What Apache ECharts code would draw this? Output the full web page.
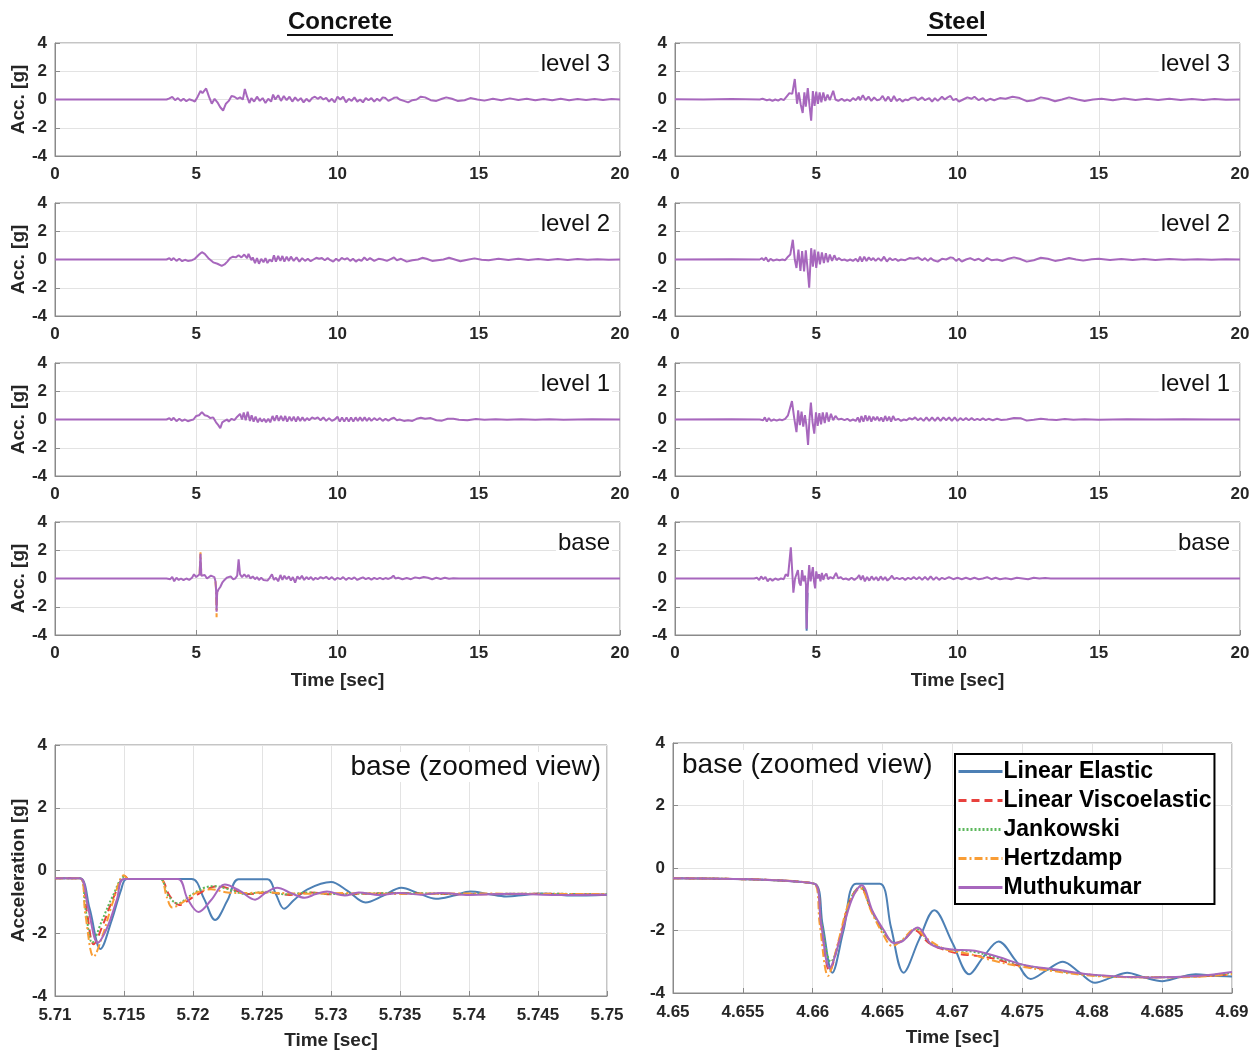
<!DOCTYPE html>
<html>
<head>
<meta charset="utf-8">
<script src="https://cdn.jsdelivr.net/npm/echarts@6/dist/echarts.min.js"></script>
<style>
  html, body { margin: 0; padding: 0; background: #fff; }
  #chart { width: 1260px; height: 1052px; }
</style>
</head>
<body>
<div id="chart"></div>
<script>
// ---- data: [time (s), acceleration (g)] ----
var seriesNames = ['Linear Elastic', 'Linear Viscoelastic', 'Jankowski', 'Hertzdamp', 'Muthukumar'];
var panelLabels = ['level 3', 'level 2', 'level 1', 'base'];
var columnTitles = ['Concrete', 'Steel'];

// concrete, full record (Muthukumar, others lie underneath)
var concL3 = [[0,0],[3.95,0],[4.05,0.08],[4.15,0.18],[4.25,-0.05],[4.35,0.1],[4.45,-0.1],[4.55,0.05],[4.65,-0.12],[4.75,0.02],[4.85,-0.05],[4.95,-0.15],[5.05,0.2],[5.15,0.6],[5.22,0.45],[5.35,0.78],[5.45,0.2],[5.55,-0.3],[5.65,0.05],[5.75,-0.2],[5.85,-0.55],[5.95,-0.78],[6.05,-0.3],[6.15,-0.1],[6.25,0.25],[6.35,0.2],[6.45,0.05],[6.55,0.15],[6.65,0.0],[6.72,0.75],[6.8,0.2],[6.88,-0.25],[6.95,0.1],[7.05,-0.15],[7.15,0.2],[7.25,-0.1],[7.35,0.1],[7.45,-0.25],[7.55,0.05],[7.65,-0.15],[7.72,0.35],[7.8,0.0],[7.9,0.3],[8.0,-0.1],[8.1,0.25],[8.2,-0.05],[8.3,0.2],[8.4,-0.15],[8.5,0.15],[8.6,-0.1],[8.7,0.1],[8.8,-0.2],[8.9,0.05],[9.0,-0.15],[9.1,0.1],[9.2,0.2],[9.3,0.05],[9.4,0.18],[9.5,0.0],[9.6,0.12],[9.7,-0.15],[9.8,0.05],[9.9,-0.2],[10.0,0.2],[10.1,0.0],[10.2,0.2],[10.3,-0.2],[10.4,0.05],[10.5,-0.1],[10.6,0.15],[10.7,-0.15],[10.8,0.0],[10.9,-0.2],[11.0,0.1],[11.1,-0.05],[11.2,0.1],[11.3,-0.15],[11.4,0.05],[11.5,-0.1],[11.6,0.15],[11.7,0.1],[11.8,-0.1],[11.9,0.0],[12.0,0.12],[12.1,0.15],[12.2,0.0],[12.35,-0.1],[12.5,-0.2],[12.65,-0.05],[12.8,0.0],[12.95,0.2],[13.1,0.15],[13.3,-0.05],[13.5,-0.1],[13.7,0.05],[13.85,0.15],[14.05,0.05],[14.25,-0.1],[14.5,-0.05],[14.7,0.1],[14.95,0.0],[15.2,-0.08],[15.5,0.05],[15.8,-0.05],[16.1,0.08],[16.4,-0.03],[16.7,0.05],[17.0,-0.06],[17.3,0.04],[17.6,-0.05],[17.9,0.05],[18.2,-0.05],[18.5,0.04],[18.8,-0.04],[19.1,0.04],[19.4,-0.03],[19.7,0.03],[20,0]];
var concL2 = [[0,0],[3.95,0],[4.05,0.1],[4.12,-0.05],[4.2,0.1],[4.3,-0.1],[4.4,0.05],[4.5,-0.12],[4.6,-0.02],[4.7,-0.1],[4.85,-0.05],[4.95,0.05],[5.1,0.35],[5.2,0.52],[5.3,0.4],[5.45,0.05],[5.6,-0.2],[5.75,-0.3],[5.9,-0.45],[6.0,-0.35],[6.1,-0.15],[6.2,0.1],[6.3,0.2],[6.4,0.15],[6.5,0.3],[6.6,0.15],[6.7,0.35],[6.8,0.1],[6.85,0.4],[6.95,-0.05],[7.0,0.15],[7.08,-0.25],[7.15,0.1],[7.22,-0.3],[7.3,0.05],[7.38,-0.2],[7.45,0.1],[7.52,-0.25],[7.6,0.0],[7.68,-0.15],[7.75,0.3],[7.82,-0.15],[7.9,0.25],[7.98,-0.1],[8.05,0.25],[8.12,-0.15],[8.2,0.2],[8.28,-0.1],[8.35,0.2],[8.45,-0.1],[8.55,0.15],[8.65,-0.15],[8.75,0.1],[8.85,-0.1],[8.95,0.05],[9.05,-0.12],[9.15,0.0],[9.25,0.12],[9.35,0.05],[9.45,0.1],[9.55,-0.05],[9.65,0.1],[9.75,-0.05],[9.85,-0.15],[9.95,0.05],[10.05,-0.1],[10.15,0.12],[10.25,0.0],[10.35,0.1],[10.45,-0.1],[10.55,0.05],[10.65,-0.15],[10.75,0.0],[10.85,-0.1],[10.95,0.15],[11.05,-0.05],[11.15,0.1],[11.3,-0.1],[11.45,0.05],[11.6,0.0],[11.75,-0.1],[11.9,0.05],[12.0,0.15],[12.1,-0.05],[12.25,0.05],[12.45,-0.15],[12.65,-0.05],[12.85,0.0],[13.0,0.12],[13.15,0.05],[13.35,-0.1],[13.55,-0.05],[13.75,0.0],[13.95,0.12],[14.15,0.0],[14.35,-0.12],[14.6,-0.02],[14.85,0.08],[15.1,-0.02],[15.35,-0.06],[15.7,0.05],[16.05,-0.03],[16.4,0.06],[16.75,-0.03],[17.1,0.04],[17.45,-0.03],[17.8,0.03],[18.15,-0.03],[18.5,0.03],[18.85,-0.02],[19.2,0.02],[19.6,-0.02],[20,0.0]];
var concL1 = [[0,0],[3.95,0],[4.05,0.1],[4.12,-0.05],[4.2,0.12],[4.3,-0.12],[4.4,0.05],[4.5,-0.1],[4.6,0.0],[4.7,-0.12],[4.8,-0.05],[4.9,0.0],[5.0,0.25],[5.1,0.3],[5.2,0.52],[5.3,0.3],[5.4,0.25],[5.5,0.1],[5.6,0.15],[5.7,-0.2],[5.78,-0.4],[5.85,-0.62],[5.92,-0.2],[6.0,-0.1],[6.1,0.0],[6.15,-0.15],[6.25,0.05],[6.35,-0.05],[6.45,0.2],[6.55,0.4],[6.62,0.0],[6.68,0.5],[6.75,-0.05],[6.82,0.55],[6.9,-0.1],[6.96,0.3],[7.03,-0.15],[7.1,0.2],[7.18,-0.2],[7.25,0.1],[7.32,-0.15],[7.4,0.05],[7.47,-0.2],[7.55,0.05],[7.62,-0.2],[7.7,0.25],[7.77,-0.1],[7.85,0.3],[7.92,-0.1],[8.0,0.25],[8.08,-0.1],[8.15,0.25],[8.22,-0.15],[8.3,0.2],[8.38,-0.1],[8.45,0.2],[8.53,-0.15],[8.6,0.2],[8.68,-0.1],[8.76,0.15],[8.84,-0.1],[8.92,0.1],[9.0,-0.05],[9.1,0.15],[9.2,0.05],[9.3,0.15],[9.4,-0.05],[9.5,0.15],[9.6,-0.1],[9.7,0.1],[9.8,-0.1],[9.9,0.0],[10.0,0.2],[10.08,-0.15],[10.16,0.15],[10.24,-0.15],[10.32,0.15],[10.4,-0.15],[10.48,0.15],[10.56,-0.15],[10.64,0.15],[10.72,-0.1],[10.8,0.15],[10.88,-0.1],[10.96,0.15],[11.04,-0.1],[11.12,0.12],[11.2,-0.1],[11.3,0.1],[11.4,-0.05],[11.5,0.1],[11.6,-0.1],[11.7,0.05],[11.8,-0.08],[11.9,0.05],[12.0,0.12],[12.1,-0.05],[12.2,0.0],[12.35,-0.1],[12.5,-0.05],[12.65,-0.1],[12.8,0.05],[12.95,0.12],[13.1,0.05],[13.3,0.1],[13.5,-0.05],[13.7,-0.08],[13.9,0.05],[14.1,0.05],[14.3,-0.02],[14.6,-0.06],[14.9,0.03],[15.2,-0.02],[15.6,0.02],[16.0,-0.02],[16.5,0.02],[17.0,-0.01],[17.5,0.02],[18.0,-0.01],[19.0,0.01],[20,0.0]];
var concBase = [[0,0],[3.95,0],[4.02,0.1],[4.08,-0.05],[4.15,0.12],[4.22,-0.2],[4.3,0.05],[4.38,-0.1],[4.46,0.0],[4.55,-0.12],[4.65,0.0],[4.75,-0.1],[4.85,0.05],[4.92,0.3],[5.0,0.1],[5.07,0.1],[5.12,0.3],[5.15,1.75],[5.18,0.2],[5.25,0.15],[5.3,0.25],[5.38,0.0],[5.45,-0.05],[5.52,0.2],[5.58,0.3],[5.64,0.1],[5.68,-0.2],[5.7,-0.7],[5.72,-2.35],[5.74,-1.0],[5.78,-0.8],[5.85,-0.6],[5.92,-0.3],[6.0,-0.1],[6.08,0.05],[6.15,-0.05],[6.22,0.15],[6.3,-0.05],[6.38,0.0],[6.45,0.2],[6.5,1.35],[6.55,0.3],[6.62,0.1],[6.7,0.3],[6.78,0.1],[6.85,0.25],[6.92,0.0],[7.0,0.15],[7.08,-0.05],[7.15,0.1],[7.22,-0.1],[7.3,0.05],[7.38,-0.1],[7.45,0.0],[7.52,-0.15],[7.6,0.05],[7.68,0.3],[7.75,-0.1],[7.82,0.05],[7.9,-0.2],[7.98,0.25],[8.05,-0.1],[8.12,0.2],[8.2,-0.05],[8.28,0.15],[8.35,-0.15],[8.42,0.1],[8.5,-0.3],[8.58,0.15],[8.66,-0.05],[8.74,0.2],[8.82,-0.1],[8.9,0.1],[8.98,-0.05],[9.06,0.1],[9.14,-0.1],[9.22,0.05],[9.3,-0.05],[9.4,0.1],[9.5,0.0],[9.6,0.12],[9.7,-0.05],[9.8,0.1],[9.9,-0.1],[10.0,0.05],[10.1,-0.05],[10.2,0.1],[10.3,-0.1],[10.4,0.05],[10.5,-0.05],[10.6,0.08],[10.7,-0.1],[10.8,0.0],[10.9,0.08],[11.0,-0.05],[11.1,0.05],[11.2,-0.08],[11.3,0.05],[11.4,-0.05],[11.5,0.05],[11.6,-0.05],[11.7,0.03],[11.8,-0.03],[11.9,0.05],[11.98,0.2],[12.05,0.0],[12.15,0.05],[12.3,-0.05],[12.45,0.03],[12.6,-0.05],[12.75,0.08],[12.9,0.02],[13.05,0.1],[13.2,0.05],[13.35,-0.05],[13.5,0.05],[13.65,-0.03],[13.8,0.05],[13.95,-0.02],[14.1,0.02],[14.3,0.0],[20,0.0]];
var concBaseHertz = [[5.12,0.3],[5.15,1.85],[5.18,0.2],[5.4,null],[5.68,-0.2],[5.7,-0.8],[5.72,-2.75],[5.74,-1.0]];

// steel, full record
var steelL3 = [[0,0.02],[1,0],[2,0.03],[3,0.0],[3.1,0.05],[3.15,0.15],[3.25,-0.05],[3.35,0.0],[3.45,-0.1],[3.55,0.0],[3.65,-0.08],[3.75,0.05],[3.85,-0.05],[3.95,0.2],[4.05,0.45],[4.15,0.4],[4.24,1.45],[4.32,-0.3],[4.38,0.5],[4.45,-0.35],[4.52,-0.95],[4.58,0.5],[4.63,-0.5],[4.7,0.8],[4.76,-0.4],[4.82,-1.5],[4.88,0.6],[4.94,-0.45],[5.0,0.55],[5.06,-0.3],[5.12,0.5],[5.18,-0.2],[5.25,0.5],[5.32,-0.1],[5.4,0.35],[5.48,-0.05],[5.6,0.62],[5.68,0.0],[5.78,-0.1],[5.9,0.05],[6.0,-0.1],[6.1,0.0],[6.2,-0.12],[6.3,0.1],[6.4,-0.05],[6.5,0.2],[6.55,-0.05],[6.65,0.3],[6.75,-0.05],[6.85,0.2],[6.95,-0.1],[7.05,0.15],[7.15,-0.05],[7.25,0.0],[7.35,0.25],[7.45,-0.1],[7.55,0.2],[7.65,-0.15],[7.75,0.25],[7.85,-0.1],[7.95,0.05],[8.05,-0.15],[8.15,0.0],[8.25,-0.05],[8.35,0.1],[8.5,0.15],[8.6,-0.05],[8.75,0.15],[8.85,-0.05],[9.0,0.1],[9.1,-0.15],[9.2,0.1],[9.3,-0.1],[9.45,0.2],[9.55,0.0],[9.65,0.15],[9.75,0.25],[9.85,-0.05],[9.95,0.05],[10.05,-0.15],[10.2,0.0],[10.35,0.15],[10.5,0.05],[10.6,0.2],[10.75,-0.05],[10.9,0.1],[11.0,-0.1],[11.15,0.05],[11.3,-0.05],[11.5,0.1],[11.7,0.05],[11.95,0.2],[12.2,0.1],[12.45,-0.12],[12.7,-0.05],[12.95,0.15],[13.2,0.05],[13.45,-0.12],[13.7,0.0],[13.95,0.15],[14.25,0.0],[14.5,-0.1],[14.8,0.0],[15.1,0.05],[15.5,-0.05],[15.9,0.07],[16.3,-0.03],[16.7,0.05],[17.1,-0.03],[17.5,0.05],[17.9,-0.03],[18.3,0.04],[18.7,-0.03],[19.1,0.03],[19.5,-0.02],[20,0.0]];
var steelL2 = [[0,0],[2,0.02],[3.0,0.0],[3.08,0.1],[3.15,-0.05],[3.22,0.15],[3.3,-0.15],[3.38,0.05],[3.48,-0.08],[3.6,0.0],[3.7,-0.05],[3.8,0.0],[3.9,-0.05],[4.0,0.2],[4.08,0.35],[4.17,1.4],[4.24,0.0],[4.3,-0.6],[4.37,0.7],[4.44,-0.8],[4.5,0.6],[4.57,-0.85],[4.63,0.65],[4.69,-0.6],[4.75,-2.0],[4.82,0.8],[4.88,-0.5],[4.94,0.7],[5.0,-0.6],[5.07,0.55],[5.13,-0.35],[5.2,0.5],[5.27,-0.25],[5.34,0.45],[5.41,-0.2],[5.48,0.35],[5.56,-0.1],[5.64,0.3],[5.72,-0.05],[5.8,0.1],[5.9,-0.05],[6.0,0.0],[6.1,-0.1],[6.2,0.0],[6.3,-0.1],[6.4,0.05],[6.48,-0.15],[6.55,0.2],[6.62,-0.15],[6.7,0.2],[6.78,-0.1],[6.86,0.15],[6.94,-0.05],[7.02,0.1],[7.1,-0.1],[7.2,0.1],[7.3,-0.1],[7.4,0.2],[7.5,-0.15],[7.6,0.1],[7.7,-0.05],[7.8,0.05],[7.9,-0.1],[8.0,0.0],[8.15,-0.05],[8.3,0.1],[8.45,0.05],[8.6,0.15],[8.75,-0.05],[8.85,0.1],[8.95,-0.1],[9.05,0.1],[9.15,-0.05],[9.3,-0.15],[9.45,0.05],[9.6,0.0],[9.75,0.15],[9.85,0.1],[9.95,-0.1],[10.05,0.05],[10.15,-0.15],[10.3,0.0],[10.45,0.1],[10.6,-0.05],[10.75,0.05],[10.9,-0.12],[11.05,0.1],[11.2,-0.05],[11.4,0.0],[11.6,-0.1],[11.8,0.05],[12.0,0.15],[12.2,0.05],[12.45,-0.15],[12.7,-0.05],[12.95,0.12],[13.2,0.05],[13.45,-0.1],[13.7,-0.02],[13.95,0.1],[14.2,0.0],[14.45,-0.08],[14.75,0.02],[15.0,0.05],[15.4,-0.04],[15.8,0.04],[16.2,-0.03],[16.6,0.03],[17.0,-0.03],[17.5,0.03],[18.0,-0.02],[18.5,0.02],[19.0,-0.02],[19.5,0.02],[20,0.0]];
var steelL1 = [[0,0],[2,0.01],[3.0,0.0],[3.06,0.1],[3.12,-0.05],[3.18,0.15],[3.25,-0.15],[3.32,0.1],[3.4,-0.1],[3.5,0.0],[3.6,-0.08],[3.7,0.0],[3.8,-0.05],[3.9,0.05],[4.0,0.3],[4.07,0.2],[4.14,1.3],[4.22,0.1],[4.3,-0.9],[4.36,0.65],[4.42,-0.4],[4.48,0.55],[4.54,-0.5],[4.6,0.3],[4.65,-0.4],[4.71,-1.8],[4.76,0.0],[4.81,1.2],[4.87,-0.2],[4.93,-1.0],[4.99,0.5],[5.05,-0.45],[5.11,0.45],[5.17,-0.35],[5.23,0.5],[5.3,-0.25],[5.37,0.5],[5.44,-0.15],[5.52,0.4],[5.6,-0.05],[5.68,0.25],[5.78,0.0],[5.9,0.05],[6.0,-0.05],[6.1,0.05],[6.2,-0.1],[6.3,0.0],[6.4,-0.1],[6.47,0.15],[6.54,-0.2],[6.6,0.25],[6.67,-0.15],[6.74,0.3],[6.81,-0.1],[6.88,0.25],[6.95,-0.15],[7.02,0.2],[7.09,-0.05],[7.16,0.2],[7.23,-0.1],[7.3,0.15],[7.37,-0.15],[7.44,0.25],[7.51,-0.1],[7.58,0.2],[7.65,-0.15],[7.72,0.25],[7.8,-0.05],[7.9,0.05],[8.0,-0.1],[8.1,0.0],[8.2,-0.05],[8.3,0.1],[8.4,0.0],[8.5,0.15],[8.6,-0.05],[8.7,0.1],[8.8,-0.1],[8.9,0.15],[9.0,-0.1],[9.1,0.15],[9.2,-0.1],[9.3,0.15],[9.4,-0.1],[9.5,0.15],[9.6,-0.05],[9.7,0.15],[9.8,-0.1],[9.9,0.15],[10.0,-0.1],[10.1,0.1],[10.2,-0.05],[10.3,0.1],[10.4,-0.05],[10.5,0.1],[10.6,-0.05],[10.7,0.05],[10.8,-0.05],[10.9,0.08],[11.0,-0.05],[11.1,0.05],[11.25,-0.05],[11.4,0.05],[11.55,-0.03],[11.75,0.0],[12.0,0.1],[12.25,0.08],[12.45,-0.08],[12.7,-0.02],[12.95,0.06],[13.2,0.0],[13.5,-0.04],[13.8,0.03],[14.1,-0.02],[14.5,0.02],[15.0,-0.01],[16,0.01],[17,0.0],[18,0.01],[19,0.0],[20,0.0]];
var steelBase = [[0,0],[2.8,0],[2.9,0.05],[2.98,-0.1],[3.05,0.15],[3.12,-0.05],[3.2,0.1],[3.28,-0.2],[3.36,0.0],[3.45,-0.15],[3.55,0.0],[3.65,-0.1],[3.75,0.0],[3.85,-0.05],[3.92,0.3],[4.0,0.15],[4.05,0.1],[4.1,2.2],[4.15,0.5],[4.19,-1.0],[4.25,0.0],[4.3,0.3],[4.35,0.6],[4.4,-0.3],[4.45,-0.5],[4.5,0.6],[4.55,-0.2],[4.6,0.2],[4.64,-0.5],[4.66,-3.55],[4.69,-1.0],[4.72,0.1],[4.75,0.95],[4.8,-0.2],[4.84,0.3],[4.88,0.8],[4.92,-0.2],[4.96,-0.7],[5.0,0.5],[5.05,0.0],[5.1,0.3],[5.15,-0.2],[5.2,0.4],[5.25,-0.1],[5.3,0.2],[5.36,0.35],[5.42,-0.05],[5.5,0.1],[5.6,0.0],[5.7,0.4],[5.78,0.0],[5.86,0.1],[5.95,-0.05],[6.05,0.0],[6.15,-0.1],[6.25,0.05],[6.35,-0.1],[6.45,0.05],[6.52,0.25],[6.58,-0.1],[6.65,0.2],[6.72,-0.2],[6.8,0.1],[6.88,-0.15],[6.96,0.15],[7.04,-0.1],[7.12,0.1],[7.2,-0.15],[7.28,0.15],[7.36,-0.1],[7.44,0.1],[7.52,-0.15],[7.6,0.0],[7.68,0.2],[7.76,-0.05],[7.85,0.05],[7.95,-0.05],[8.05,0.05],[8.15,-0.1],[8.25,0.05],[8.35,-0.05],[8.45,0.1],[8.55,-0.05],[8.65,0.1],[8.75,-0.1],[8.85,0.12],[8.95,-0.1],[9.05,0.15],[9.15,-0.1],[9.25,0.1],[9.35,-0.1],[9.45,0.05],[9.55,-0.05],[9.7,0.1],[9.85,-0.05],[10.0,0.05],[10.15,-0.05],[10.3,0.05],[10.45,-0.05],[10.6,0.05],[10.75,-0.05],[10.9,0.0],[11.05,0.1],[11.2,-0.05],[11.35,0.05],[11.5,-0.05],[11.7,0.02],[11.9,-0.05],[12.1,0.05],[12.3,0.0],[12.5,-0.05],[12.7,0.05],[12.9,0.0],[13.1,0.03],[13.3,0.0],[20,0.0]];
var steelBaseElastic = [[4.64,-0.5],[4.66,-3.7],[4.69,-1.0]];

// concrete base, zoomed view 5.71-5.75 s
var concZoomLE = [[5.71,-0.25],[5.7118,-0.25],[5.7125,-1.2],[5.7133,-2.5],[5.7141,-1.6],[5.7148,-0.6],[5.7152,-0.27],[5.7199,-0.27],[5.7208,-0.9],[5.7216,-1.58],[5.7225,-0.95],[5.7233,-0.28],[5.7254,-0.28],[5.726,-0.75],[5.7266,-1.22],[5.7273,-0.95],[5.7283,-0.6],[5.73,-0.37],[5.7312,-0.65],[5.7325,-1.02],[5.7338,-0.8],[5.7351,-0.55],[5.7363,-0.72],[5.7376,-0.9],[5.7389,-0.8],[5.7401,-0.67],[5.7414,-0.75],[5.7427,-0.83],[5.744,-0.78],[5.7452,-0.73],[5.7463,-0.76],[5.7474,-0.8],[5.75,-0.77]];
var concZoomLV = [[5.71,-0.25],[5.7118,-0.25],[5.7123,-1.3],[5.7128,-2.35],[5.7135,-1.7],[5.7143,-0.8],[5.7151,-0.18],[5.7153,-0.27],[5.7176,-0.27],[5.7183,-0.8],[5.719,-1.1],[5.72,-0.85],[5.721,-0.6],[5.7218,-0.5],[5.7228,-0.6],[5.724,-0.75],[5.7255,-0.7],[5.727,-0.78],[5.7285,-0.7],[5.73,-0.76],[5.735,-0.72],[5.74,-0.76],[5.745,-0.74],[5.75,-0.77]];
var concZoomJK = [[5.71,-0.25],[5.7118,-0.25],[5.7122,-1.2],[5.7127,-2.3],[5.7134,-1.6],[5.7142,-0.8],[5.715,-0.2],[5.7153,-0.27],[5.7176,-0.27],[5.7182,-0.8],[5.7189,-1.05],[5.7198,-0.8],[5.7208,-0.55],[5.7216,-0.5],[5.7226,-0.6],[5.7238,-0.75],[5.7252,-0.68],[5.7268,-0.76],[5.7283,-0.7],[5.73,-0.75],[5.735,-0.72],[5.74,-0.75],[5.745,-0.74],[5.75,-0.76]];
var concZoomHD = [[5.71,-0.25],[5.7118,-0.25],[5.7122,-1.4],[5.7128,-2.75],[5.7135,-2.0],[5.7142,-1.0],[5.715,-0.15],[5.7153,-0.27],[5.7176,-0.27],[5.7181,-0.85],[5.7185,-1.18],[5.7193,-1.0],[5.7203,-0.7],[5.7213,-0.6],[5.7225,-0.7],[5.7238,-0.72],[5.725,-0.7],[5.728,-0.74],[5.731,-0.72],[5.735,-0.75],[5.74,-0.73],[5.745,-0.75],[5.75,-0.75]];
var concZoomMK = [[5.71,-0.25],[5.7118,-0.25],[5.7124,-1.2],[5.7131,-2.3],[5.7138,-1.8],[5.7145,-0.9],[5.715,-0.27],[5.7189,-0.27],[5.7196,-0.9],[5.7204,-1.32],[5.7213,-0.95],[5.7223,-0.45],[5.7234,-0.65],[5.7245,-0.93],[5.7253,-0.7],[5.7261,-0.55],[5.7271,-0.72],[5.7281,-0.87],[5.7289,-0.75],[5.7297,-0.67],[5.731,-0.8],[5.732,-0.7],[5.7335,-0.78],[5.735,-0.72],[5.7365,-0.77],[5.738,-0.72],[5.74,-0.78],[5.743,-0.74],[5.746,-0.78],[5.75,-0.77]];

// steel base, zoomed view 4.65-4.69 s
var steelZoomLE = [[4.65,-0.33],[4.6601,-0.5],[4.6607,-1.8],[4.6614,-3.35],[4.6622,-2.0],[4.6631,-0.5],[4.6648,-0.5],[4.6656,-1.9],[4.6665,-3.35],[4.6676,-2.3],[4.6687,-1.35],[4.67,-2.4],[4.6712,-3.4],[4.6722,-2.85],[4.6733,-2.35],[4.6745,-2.95],[4.6756,-3.55],[4.6768,-3.25],[4.6779,-3.0],[4.6791,-3.35],[4.6802,-3.67],[4.6814,-3.5],[4.6825,-3.35],[4.6837,-3.5],[4.685,-3.62],[4.6862,-3.5],[4.6874,-3.4],[4.6887,-3.45],[4.69,-3.47]];
var steelZoomLV = [[4.65,-0.33],[4.6601,-0.5],[4.6606,-1.8],[4.6612,-3.3],[4.6619,-2.3],[4.6627,-1.0],[4.6634,-0.6],[4.6642,-1.35],[4.665,-2.0],[4.6659,-2.4],[4.6665,-2.3],[4.6673,-2.0],[4.6683,-2.4],[4.6693,-2.6],[4.6705,-2.75],[4.6715,-2.8],[4.673,-2.9],[4.6745,-3.1],[4.677,-3.25],[4.68,-3.42],[4.684,-3.5],[4.6875,-3.47],[4.69,-3.4]];
var steelZoomJK = [[4.65,-0.33],[4.6601,-0.5],[4.6606,-1.7],[4.6613,-3.0],[4.662,-2.2],[4.6627,-1.0],[4.6634,-0.6],[4.6642,-1.35],[4.665,-2.0],[4.6659,-2.4],[4.6665,-2.3],[4.6674,-1.95],[4.6684,-2.4],[4.6696,-2.6],[4.6715,-2.68],[4.6732,-2.88],[4.675,-3.1],[4.6773,-3.27],[4.68,-3.43],[4.684,-3.5],[4.6876,-3.46],[4.69,-3.36]];
var steelZoomHD = [[4.65,-0.33],[4.6601,-0.5],[4.6605,-1.8],[4.6611,-3.45],[4.6618,-2.4],[4.6626,-1.1],[4.6634,-0.65],[4.6642,-1.4],[4.665,-2.1],[4.6657,-2.5],[4.6664,-2.3],[4.6673,-1.95],[4.6683,-2.3],[4.6695,-2.6],[4.6712,-2.75],[4.6728,-2.95],[4.6748,-3.15],[4.6772,-3.3],[4.68,-3.45],[4.684,-3.5],[4.6875,-3.48],[4.69,-3.4]];
var steelZoomMK = [[4.65,-0.33],[4.6601,-0.5],[4.6606,-1.8],[4.6612,-3.2],[4.662,-2.2],[4.6628,-1.0],[4.6635,-0.55],[4.6643,-1.4],[4.6651,-2.0],[4.6658,-2.4],[4.6664,-2.35],[4.6675,-1.9],[4.6685,-2.45],[4.6698,-2.6],[4.6716,-2.65],[4.6733,-2.85],[4.6751,-3.1],[4.6774,-3.25],[4.6802,-3.42],[4.6842,-3.5],[4.6877,-3.45],[4.69,-3.33]];

// ---- styling ----
var FONT = '"Liberation Sans", Arial, sans-serif';
var colors = ['#4d80b5', '#e8413d', '#5cb85c', '#f99d35', '#a767bd'];
var dashes = ['solid', [8, 5], [2, 2], [8, 3, 2, 3], 'solid'];
var boxColor = '#8a8a8a';
var gridColor = '#e3e3e3';

var colLeft = [55, 675];
var rowTop = [43, 203, 363, 522];

var grids = [], xAxes = [], yAxes = [], series = [], graphics = [];

function addPanel(g, opts) {
  grids.push({
    left: g.left, top: g.top, width: g.width, height: g.height,
    show: true, borderColor: boxColor, borderWidth: 1, backgroundColor: '#fff',
    containLabel: false, outerBoundsMode: 'none'
  });
  var idx = grids.length - 1;
  xAxes.push({
    gridIndex: idx, type: 'value', min: opts.xmin, max: opts.xmax, interval: opts.xint,
    name: opts.xname || '', nameLocation: 'middle', nameGap: opts.xnameGap || 34,
    nameTextStyle: { fontFamily: FONT, fontWeight: 'bold', fontSize: 19, color: '#262626' },
    axisLine: { show: true, onZero: false, lineStyle: { color: boxColor, width: 1 } },
    axisTick: { show: true, inside: true, length: 5, lineStyle: { color: boxColor } },
    splitLine: { show: true, lineStyle: { color: gridColor, width: 1 } },
    axisLabel: {
      margin: opts.xmargin || 10, fontFamily: FONT, fontWeight: 'bold', fontSize: 17, color: '#262626',
      showMinLabel: true, showMaxLabel: true, hideOverlap: false,
      formatter: opts.xfmt || function (v) { return String(+v.toFixed(3)); }
    }
  });
  yAxes.push({
    gridIndex: idx, type: 'value', min: -4, max: 4, interval: 2,
    name: opts.yname || '', nameLocation: 'middle', nameGap: opts.ynameGap || 28, nameRotate: 90,
    nameTextStyle: { fontFamily: FONT, fontWeight: 'bold', fontSize: 19, color: '#262626' },
    axisLine: { show: true, onZero: false, lineStyle: { color: boxColor, width: 1 } },
    axisTick: { show: true, inside: true, length: 5, lineStyle: { color: boxColor } },
    splitLine: { show: true, lineStyle: { color: gridColor, width: 1 } },
    axisLabel: {
      margin: 8, fontFamily: FONT, fontWeight: 'bold', fontSize: 17, color: '#262626',
      showMinLabel: true, showMaxLabel: true, hideOverlap: false
    }
  });
  return idx;
}

function addLine(idx, k, data, smooth, width) {
  series.push({
    name: seriesNames[k], type: 'line', xAxisIndex: idx, yAxisIndex: idx,
    data: data, symbol: 'none', showSymbol: false, smooth: smooth || false,
    connectNulls: false, animation: false, silent: true,
    lineStyle: { color: colors[k], type: dashes[k], width: width || 2 },
    itemStyle: { color: colors[k] }
  });
}

function addLabel(x, y, text, align, size) {
  graphics.push({
    type: 'text', x: x, y: y, z: 100,
    style: {
      text: text, fill: '#111', font: 'normal ' + size + 'px ' + FONT,
      textAlign: align, textVerticalAlign: 'middle',
      backgroundColor: '#fff', padding: [1, 2, 1, 2]
    }
  });
}

// full time histories
var fullData = [
  [concL3, concL2, concL1, concBase],
  [steelL3, steelL2, steelL1, steelBase]
];
for (var c = 0; c < 2; c++) {
  for (var r = 0; r < 4; r++) {
    var idx = addPanel(
      { left: colLeft[c], top: rowTop[r], width: 565, height: 113 },
      {
        xmin: 0, xmax: 20, xint: 5,
        xname: r === 3 ? 'Time [sec]' : '', xnameGap: 36,
        yname: c === 0 ? 'Acc. [g]' : '', ynameGap: 27,
        xfmt: function (v) { return String(v); }
      }
    );
    if (c === 0 && r === 3) addLine(idx, 3, concBaseHertz, false, 2);
    if (c === 1 && r === 3) addLine(idx, 0, steelBaseElastic, false, 2);
    addLine(idx, 4, fullData[c][r], false, 2);
    addLabel(colLeft[c] + 557, rowTop[r] + 21, panelLabels[r], 'right', 24);
  }
}

// zoomed base panels
var zoomData = [
  [concZoomLE, concZoomLV, concZoomJK, concZoomHD, concZoomMK],
  [steelZoomLE, steelZoomLV, steelZoomJK, steelZoomHD, steelZoomMK]
];
var zl = addPanel({ left: 55, top: 745, width: 552, height: 251 },
  { xmin: 5.71, xmax: 5.75, xint: 0.005, xname: 'Time [sec]', xnameGap: 35, xmargin: 11,
    yname: 'Acceleration [g]', ynameGap: 25 });
var zr = addPanel({ left: 673, top: 743, width: 559, height: 250 },
  { xmin: 4.65, xmax: 4.69, xint: 0.005, xname: 'Time [sec]', xnameGap: 35, xmargin: 11 });
for (var k = 0; k < 5; k++) {
  addLine(zl, k, zoomData[0][k], 0.35, 2);
  addLine(zr, k, zoomData[1][k], 0.35, 2);
}
addLabel(603, 767, 'base (zoomed view)', 'right', 28);
addLabel(680, 765, 'base (zoomed view)', 'left', 28);

// column titles, underlined
var titleX = [340, 957];
for (var t = 0; t < 2; t++) {
  graphics.push({
    type: 'text', x: titleX[t], y: 22, z: 100,
    style: { text: columnTitles[t], fill: '#111', font: 'bold 24px ' + FONT,
      textAlign: 'center', textVerticalAlign: 'middle' }
  });
}
graphics.push({ type: 'line', z: 100, shape: { x1: 287, y1: 35, x2: 393, y2: 35 }, style: { stroke: '#111', lineWidth: 2 } });
graphics.push({ type: 'line', z: 100, shape: { x1: 927, y1: 35, x2: 987, y2: 35 }, style: { stroke: '#111', lineWidth: 2 } });

var chart = echarts.init(document.getElementById('chart'), null, { renderer: 'canvas' });
chart.setOption({
  backgroundColor: '#fff',
  animation: false,
  textStyle: { fontFamily: FONT },
  grid: grids,
  xAxis: xAxes,
  yAxis: yAxes,
  series: series,
  graphic: graphics,
  legend: {
    data: seriesNames,
    orient: 'vertical',
    left: 955, top: 754,
    padding: [6, 3, 5, 2],
    itemGap: 6,
    itemWidth: 44, itemHeight: 23,
    borderColor: '#000', borderWidth: 2,
    backgroundColor: '#fff',
    selectedMode: false,
    itemStyle: { opacity: 0 },
    lineStyle: { width: 3 },
    textStyle: { fontFamily: FONT, fontWeight: 'bold', fontSize: 23, color: '#000', padding: [0, 0, 0, -4] },
    z: 50
  }
});
</script>
</body>
</html>
